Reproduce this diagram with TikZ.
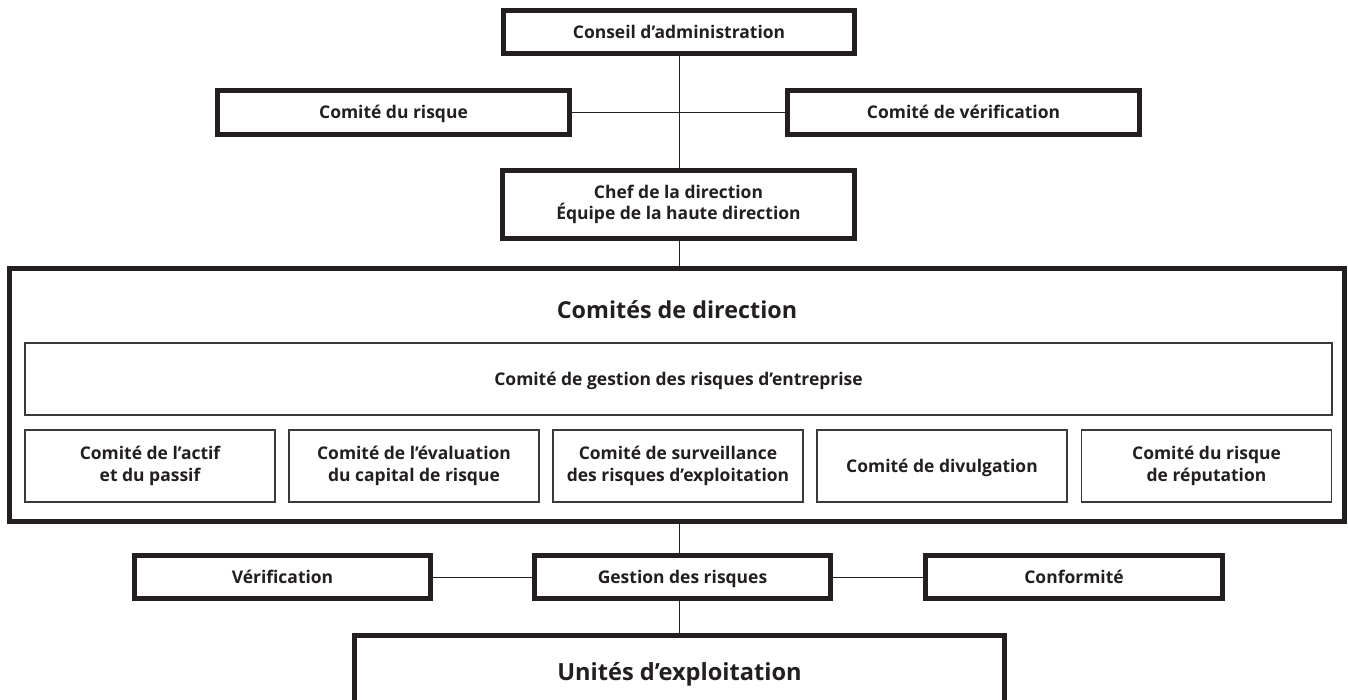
\documentclass[tikz,border=0pt]{standalone}
\usepackage{fontspec}
\setmainfont{Open Sans}
\definecolor{ink}{HTML}{231F20}
\definecolor{thinline}{HTML}{3A3A3A}
\begin{document}
\begin{tikzpicture}[x=0.75pt,y=-0.75pt,
  heavybox/.style={draw=ink, line width=3.6pt, fill=white, align=center, inner sep=0pt,
    text=ink, font=\bfseries\fontsize{13.1}{16}\selectfont},
  bigframe/.style={draw=ink, line width=4.1pt, inner sep=0pt},
  lightbox/.style={draw=thinline, line width=0.8pt, fill=white, align=center, inner sep=0pt,
    text=ink, font=\bfseries\fontsize{13.1}{16}\selectfont,
    minimum width=250*0.75pt, minimum height=72*0.75pt},
  oneline/.style={text height=9.4pt, text depth=0pt},
  bigline/.style={text height=12.6pt, text depth=0pt},
  link/.style={draw=ink, line width=0.75pt},
  bigtitle/.style={text=ink, font=\bfseries\fontsize{17.5}{21}\selectfont, inner sep=0pt}
]
\useasboundingbox (0,0) rectangle (1348,699);
\clip (0,0) rectangle (1348,699);

% top level
\node[heavybox, oneline, minimum width=351*0.75pt, minimum height=43*0.75pt] (conseil) at (679,32) {Conseil d’administration};
\node[heavybox, oneline, minimum width=352*0.75pt, minimum height=44*0.75pt] (crisque) at (393.5,112.5) {Comité du risque};
\node[heavybox, oneline, minimum width=352*0.75pt, minimum height=44*0.75pt] (cverif) at (963.5,112.5) {Comité de vérification};
\node[heavybox, minimum width=352*0.75pt, minimum height=68*0.75pt] (chef) at (678.5,204.5) {Chef de la direction\\Équipe de la haute direction};

% big frame
\node[bigframe, minimum width=1334.5*0.75pt, minimum height=252.5*0.75pt] (direction) at (677,395) {};
\node[bigtitle, bigline] (dirtitle) at (677,310) {Comités de direction};
\node[lightbox, oneline, minimum width=1307*0.75pt] (erm) at (678.5,379) {Comité de gestion des risques d’entreprise};
\node[lightbox] (c1) at (150,466) {Comité de l’actif\\et du passif};
\node[lightbox] (c2) at (414,466) {Comité de l’évaluation\\du capital de risque};
\node[lightbox] (c3) at (678,466) {Comité de surveillance\\des risques d’exploitation};
\node[lightbox, oneline] (c4) at (942,466) {Comité de divulgation};
\node[lightbox] (c5) at (1206.5,466) {Comité du risque\\de réputation};

% bottom level
\node[heavybox, oneline, minimum width=296*0.75pt, minimum height=43*0.75pt] (verif) at (282.5,577) {Vérification};
\node[heavybox, oneline, minimum width=296*0.75pt, minimum height=43*0.75pt] (gestion) at (682.5,577) {Gestion des risques};
\node[heavybox, oneline, minimum width=297*0.75pt, minimum height=43*0.75pt] (conf) at (1074,577) {Conformité};
\node[heavybox, bigline, minimum width=650*0.75pt, minimum height=73*0.75pt, font=\bfseries\fontsize{17.7}{21}\selectfont] (unites) at (679.5,672) {Unités d’exploitation};

% connectors
\coordinate (axis) at (679,0);
\draw[link] (axis |- conseil.south) -- (axis |- chef.north);
\draw[link] (crisque.east) -- (cverif.west);
\draw[link] (axis |- chef.south) -- (axis |- direction.north);
\draw[link] (axis |- direction.south) -- (axis |- gestion.north);
\draw[link] (verif.east) -- (gestion.west);
\draw[link] (gestion.east) -- (conf.west);
\draw[link] (axis |- gestion.south) -- (axis |- unites.north);
\end{tikzpicture}
\end{document}
